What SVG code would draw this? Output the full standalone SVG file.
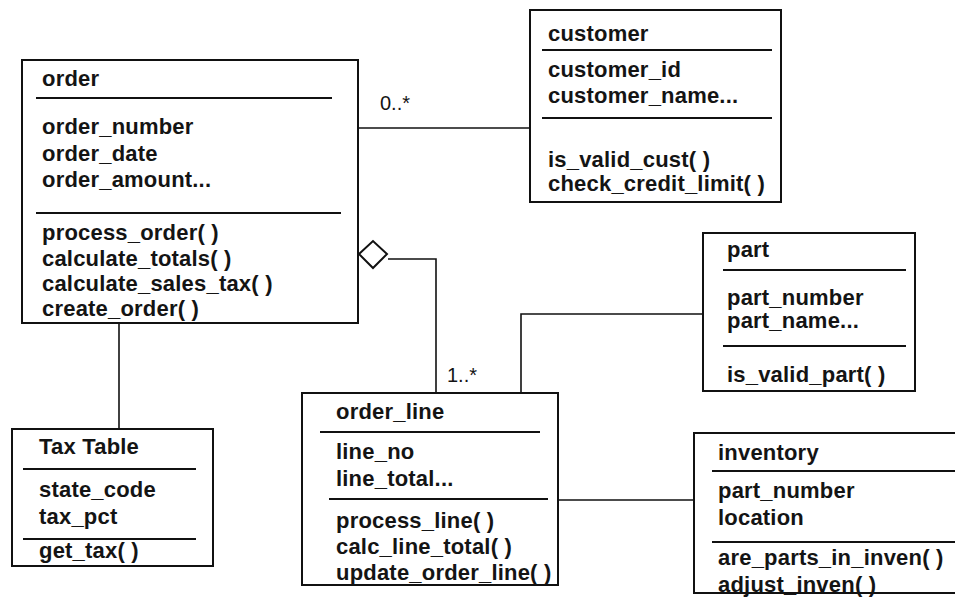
<svg xmlns="http://www.w3.org/2000/svg" width="955" height="597" viewBox="0 0 955 597">
  <style>
    .box { fill: #ffffff; stroke: #111111; stroke-width: 2; }
    .sep { stroke: #111111; stroke-width: 2; fill: none; }
    .conn { stroke: #111111; stroke-width: 1.6; fill: none; }
    .t { font-family: "Liberation Sans", Arial, sans-serif; font-size: 22px; font-weight: bold; letter-spacing: 0.2px; fill: #141414; }
    .mult { font-family: "Liberation Sans", Arial, sans-serif; font-size: 20px; fill: #141414; }
  </style>
  <rect width="955" height="597" fill="#ffffff"/>

  <!-- associations -->
  <g id="connectors">
    <line class="conn" x1="358" y1="128" x2="530" y2="128"/>
    <line class="conn" x1="119" y1="323" x2="119" y2="429"/>
    <polyline class="conn" points="388,259 436,259 436,393"/>
    <polygon id="aggregation" points="359,254 373,241 387,254 373,268" fill="#ffffff" stroke="#111111" stroke-width="2"/>
    <polyline class="conn" points="521,393 521,314 703,314"/>
    <line class="conn" x1="558" y1="500" x2="694" y2="500"/>
    <text class="mult" x="380" y="110">0..*</text>
    <text class="mult" x="447" y="382">1..*</text>
  </g>

  <g id="order">
    <rect class="box" x="22" y="60" width="336" height="263"/>
    <text class="t" x="42" y="86">order</text>
    <line class="sep" x1="36" y1="98" x2="332" y2="98"/>
    <text class="t" x="42" y="134">order_number</text>
    <text class="t" x="42" y="161">order_date</text>
    <text class="t" x="42" y="187">order_amount...</text>
    <line class="sep" x1="36" y1="213" x2="341" y2="213"/>
    <text class="t" x="42" y="240">process_order( )</text>
    <text class="t" x="42" y="266">calculate_totals( )</text>
    <text class="t" x="42" y="291">calculate_sales_tax( )</text>
    <text class="t" x="42" y="316">create_order( )</text>
  </g>

  <g id="customer">
    <rect class="box" x="530" y="10" width="251" height="192"/>
    <text class="t" x="548" y="41">customer</text>
    <line class="sep" x1="542" y1="50" x2="772" y2="50"/>
    <text class="t" x="548" y="77">customer_id</text>
    <text class="t" x="548" y="103">customer_name...</text>
    <line class="sep" x1="542" y1="118" x2="772" y2="118"/>
    <text class="t" x="548" y="167">is_valid_cust( )</text>
    <text class="t" x="548" y="191">check_credit_limit( )</text>
  </g>

  <g id="part">
    <rect class="box" x="703" y="233" width="212" height="158"/>
    <text class="t" x="727" y="257">part</text>
    <line class="sep" x1="723" y1="270" x2="906" y2="270"/>
    <text class="t" x="727" y="305">part_number</text>
    <text class="t" x="727" y="328">part_name...</text>
    <line class="sep" x1="723" y1="346" x2="906" y2="346"/>
    <text class="t" x="727" y="382">is_valid_part( )</text>
  </g>

  <g id="tax_table">
    <rect class="box" x="12" y="429" width="201" height="137"/>
    <text class="t" x="39" y="454">Tax Table</text>
    <line class="sep" x1="23" y1="469" x2="196" y2="469"/>
    <text class="t" x="39" y="497">state_code</text>
    <text class="t" x="39" y="524">tax_pct</text>
    <line class="sep" x1="23" y1="539" x2="196" y2="539"/>
    <text class="t" x="39" y="558">get_tax( )</text>
  </g>

  <g id="order_line">
    <rect class="box" x="302" y="393" width="256" height="192"/>
    <text class="t" x="336" y="419">order_line</text>
    <line class="sep" x1="320" y1="432" x2="540" y2="432"/>
    <text class="t" x="336" y="459">line_no</text>
    <text class="t" x="336" y="486">line_total...</text>
    <line class="sep" x1="329" y1="499" x2="548" y2="499"/>
    <text class="t" x="336" y="528">process_line( )</text>
    <text class="t" x="336" y="554">calc_line_total( )</text>
    <text class="t" x="336" y="580">update_order_line( )</text>
  </g>

  <g id="inventory">
    <rect class="box" x="694" y="433" width="275" height="160"/>
    <text class="t" x="718" y="460">inventory</text>
    <line class="sep" x1="712" y1="471" x2="955" y2="471"/>
    <text class="t" x="718" y="498">part_number</text>
    <text class="t" x="718" y="525">location</text>
    <line class="sep" x1="712" y1="542" x2="955" y2="542"/>
    <text class="t" x="718" y="565">are_parts_in_inven( )</text>
    <text class="t" x="718" y="592">adjust_inven( )</text>
  </g>
</svg>
